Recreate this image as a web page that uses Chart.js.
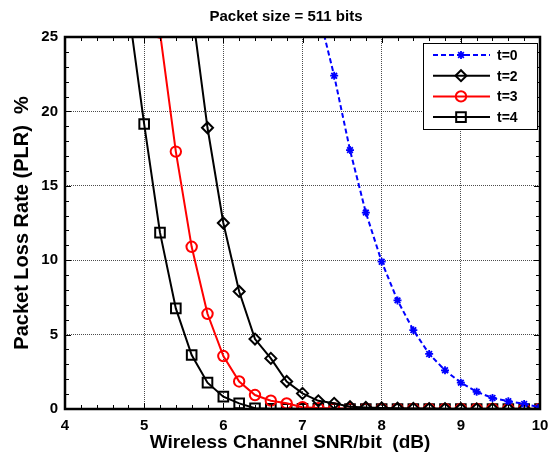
<!DOCTYPE html>
<html>
<head>
<meta charset="utf-8">
<script src="https://cdn.jsdelivr.net/npm/chart.js@4/dist/chart.umd.min.js"></script>
<style>
  html, body { margin: 0; padding: 0; background: #fff; }
  #wrap { width: 549px; height: 459px; }
</style>
</head>
<body>
<div id="wrap"><canvas id="plrChart" width="549" height="459"></canvas></div>
<script>
// SNR/bit (dB) sample points
const snr = [4.8, 5.0, 5.2, 5.4, 5.6, 5.8, 6.0, 6.2, 6.4, 6.6, 6.8, 7.0, 7.2, 7.4,
             7.6, 7.8, 8.0, 8.2, 8.4, 8.6, 8.8, 9.0, 9.2, 9.4, 9.6, 9.8, 10.0];
// PLR (%) per correction capability t, null = not plotted
const plrT0 = [null, null, null, null, null, null, null, null, null, null, null, null,
               26.7, 22.4, 17.4, 13.2, 9.9, 7.3, 5.3, 3.7, 2.6, 1.77, 1.16, 0.74, 0.52, 0.34, 0.12];
const plrT2 = [null, null, null, null, 27.0, 18.9, 12.5, 7.9, 4.7, 3.4, 1.85, 1.05, 0.55, 0.38,
               0.15, 0.1, 0.07, 0.05, 0.04, 0.03, 0.02, 0.02, 0.01, 0.01, 0.01, 0.01, 0.01];
const plrT3 = [null, null, 25.3, 17.3, 10.9, 6.4, 3.56, 1.85, 0.94, 0.56, 0.38, 0.12, 0.06, 0.04,
               0.03, 0.02, 0.01, 0.01, 0.01, 0.01, 0, 0, 0, 0, 0, 0, 0];
const plrT4 = [27.0, 19.15, 11.85, 6.76, 3.63, 1.77, 0.83, 0.38, 0.05, 0.02, 0.02, 0.01, 0.01, 0.01,
               0, 0, 0, 0, 0, 0, 0, 0, 0, 0, 0, 0, 0];
const seriesLabels = ['t=0', 't=2', 't=3', 't=4'];
const xTicks = [4, 5, 6, 7, 8, 9, 10];
const yTicks = [0, 5, 10, 15, 20, 25];
const titleText = 'Packet size = 511 bits';
const xLabel = 'Wireless Channel SNR/bit  (dB)';
const yLabel = 'Packet Loss Rate (PLR)  %';

const FONT = '"Liberation Sans", Arial, sans-serif';

function toPoints(vals) {
    return snr.map((x, i) => ({ x: x, y: vals[i] }));
}

// frame + inward ticks on all four sides, matlab style
const framePlugin = {
    id: 'frame',
    afterDatasetsDraw(chart) {
        const ctx = chart.ctx;
        const a = chart.chartArea;
        const xs = chart.scales.x, ys = chart.scales.y;
        ctx.save();
        ctx.strokeStyle = '#000';
        ctx.lineWidth = 1;
        ctx.beginPath();
        for (let v = 4; v <= 10.001; v += 0.2) {
            const px = Math.round(xs.getPixelForValue(v)) + 0.5;
            const len = Math.abs(v - Math.round(v)) < 0.01 ? 6 : 4;
            ctx.moveTo(px, a.bottom); ctx.lineTo(px, a.bottom - len);
            ctx.moveTo(px, a.top); ctx.lineTo(px, a.top + len);
        }
        for (let v = 0; v <= 25; v += 1) {
            const py = Math.round(ys.getPixelForValue(v)) + 0.5;
            const len = v % 5 === 0 ? 6 : 4;
            ctx.moveTo(a.left, py); ctx.lineTo(a.left + len, py);
            ctx.moveTo(a.right, py); ctx.lineTo(a.right - len, py);
        }
        ctx.stroke();
        ctx.lineWidth = 2.5;
        ctx.strokeRect(a.left, a.top, a.right - a.left, a.bottom - a.top);
        ctx.restore();
    }
};

// title and x label, placed like the matlab figure (slightly left of centre)
const textPlugin = {
    id: 'texts',
    afterDraw(chart) {
        const ctx = chart.ctx;
        ctx.save();
        ctx.fillStyle = '#000';
        ctx.textAlign = 'center';
        ctx.textBaseline = 'middle';
        ctx.font = 'bold 15px ' + FONT;
        ctx.fillText(titleText, 286, 17);
        ctx.font = 'bold 19px ' + FONT;
        ctx.fillText(xLabel, 290, 443);
        ctx.restore();
    }
};

// legend box in the top right corner
const legendPlugin = {
    id: 'boxLegend',
    afterDraw(chart) {
        const ctx = chart.ctx;
        const bx = 423, by = 43, bw = 114, bh = 86;
        ctx.save();
        ctx.fillStyle = '#fff';
        ctx.fillRect(bx, by, bw, bh);
        ctx.strokeStyle = '#000';
        ctx.lineWidth = 1;
        ctx.strokeRect(bx + 0.5, by + 0.5, bw, bh);
        chart.data.datasets.forEach((ds, i) => {
            const y = by + 12 + i * 20.7;
            ctx.strokeStyle = ds.borderColor;
            ctx.lineWidth = ds.borderWidth;
            ctx.setLineDash(ds.borderDash || []);
            ctx.beginPath();
            ctx.moveTo(433, y); ctx.lineTo(490, y);
            ctx.stroke();
            ctx.setLineDash([]);
            ctx.fillStyle = 'rgba(0,0,0,0)';
            ctx.strokeStyle = ds.pointBorderColor;
            ctx.lineWidth = ds.pointBorderWidth;
            Chart.helpers.drawPoint(ctx, {
                pointStyle: ds.pointStyle, radius: ds.pointRadius,
                rotation: 0, borderWidth: ds.pointBorderWidth
            }, 461, y);
            ctx.fillStyle = '#000';
            ctx.font = 'bold 14px ' + FONT;
            ctx.textBaseline = 'middle';
            ctx.textAlign = 'left';
            ctx.fillText(ds.label, 497, y + 1);
        });
        ctx.restore();
    }
};

const bg = {
    id: 'bg',
    beforeDraw(chart) {
        const ctx = chart.ctx;
        ctx.save();
        ctx.fillStyle = '#fff';
        ctx.fillRect(0, 0, chart.width, chart.height);
        ctx.restore();
    }
};

document.addEventListener('DOMContentLoaded', () => {
    const ctx = document.getElementById('plrChart').getContext('2d');

    new Chart(ctx, {
        type: 'line',
        data: {
            datasets: [{
                label: seriesLabels[0],
                data: toPoints(plrT0),
                borderColor: '#0000ff',
                borderWidth: 2,
                borderDash: [5, 3],
                pointStyle: 'star',
                pointRadius: 4,
                pointBorderColor: '#0000ff',
                pointBorderWidth: 1.8,
                pointBackgroundColor: 'rgba(0,0,0,0)'
            }, {
                label: seriesLabels[1],
                data: toPoints(plrT2),
                borderColor: '#000',
                borderWidth: 2,
                pointStyle: 'rectRot',
                pointRadius: 5.5,
                pointBorderColor: '#000',
                pointBorderWidth: 2,
                pointBackgroundColor: 'rgba(0,0,0,0)'
            }, {
                label: seriesLabels[2],
                data: toPoints(plrT3),
                borderColor: '#ff0000',
                borderWidth: 2,
                pointStyle: 'circle',
                pointRadius: 5.2,
                pointBorderColor: '#ff0000',
                pointBorderWidth: 2,
                pointBackgroundColor: 'rgba(0,0,0,0)'
            }, {
                label: seriesLabels[3],
                data: toPoints(plrT4),
                borderColor: '#000',
                borderWidth: 2,
                pointStyle: 'rect',
                pointRadius: 6.8,
                pointBorderColor: '#000',
                pointBorderWidth: 2,
                pointBackgroundColor: 'rgba(0,0,0,0)'
            }]
        },
        options: {
            responsive: false,
            animation: false,
            spanGaps: false,
            layout: { padding: { left: 0, right: 9, top: 37, bottom: 0 } },
            plugins: {
                legend: { display: false },
                tooltip: { enabled: false },
                title: { display: false }
            },
            scales: {
                x: {
                    type: 'linear',
                    min: 4, max: 10,
                    afterBuildTicks: (s) => { s.ticks = xTicks.map(v => ({ value: v })); },
                    afterFit: (s) => { s.height = 50; s.paddingRight = 0; s.paddingLeft = 0; },
                    ticks: {
                        color: '#000',
                        padding: 8,
                        font: { family: FONT, size: 15, weight: 'bold' }
                    },
                    grid: { color: 'rgba(0,0,0,0.7)', drawTicks: false, lineWidth: 1 },
                    border: { display: false, dash: [1, 1] },
                    title: { display: false, text: xLabel }
                },
                y: {
                    min: 0, max: 25,
                    afterBuildTicks: (s) => { s.ticks = yTicks.map(v => ({ value: v })); },
                    afterFit: (s) => { s.width = 65; s.paddingTop = 0; s.paddingBottom = 0; },
                    ticks: {
                        color: '#000',
                        padding: 7,
                        font: { family: FONT, size: 15, weight: 'bold' }
                    },
                    grid: { color: 'rgba(0,0,0,0.7)', drawTicks: false, lineWidth: 1 },
                    border: { display: false, dash: [1, 1] },
                    title: {
                        display: true,
                        text: yLabel,
                        color: '#000',
                        padding: { top: 10, bottom: 0 },
                        font: { family: FONT, size: 20, weight: 'bold' }
                    }
                }
            }
        },
        plugins: [bg, framePlugin, legendPlugin, textPlugin]
    });
});
</script>
</body>
</html>
